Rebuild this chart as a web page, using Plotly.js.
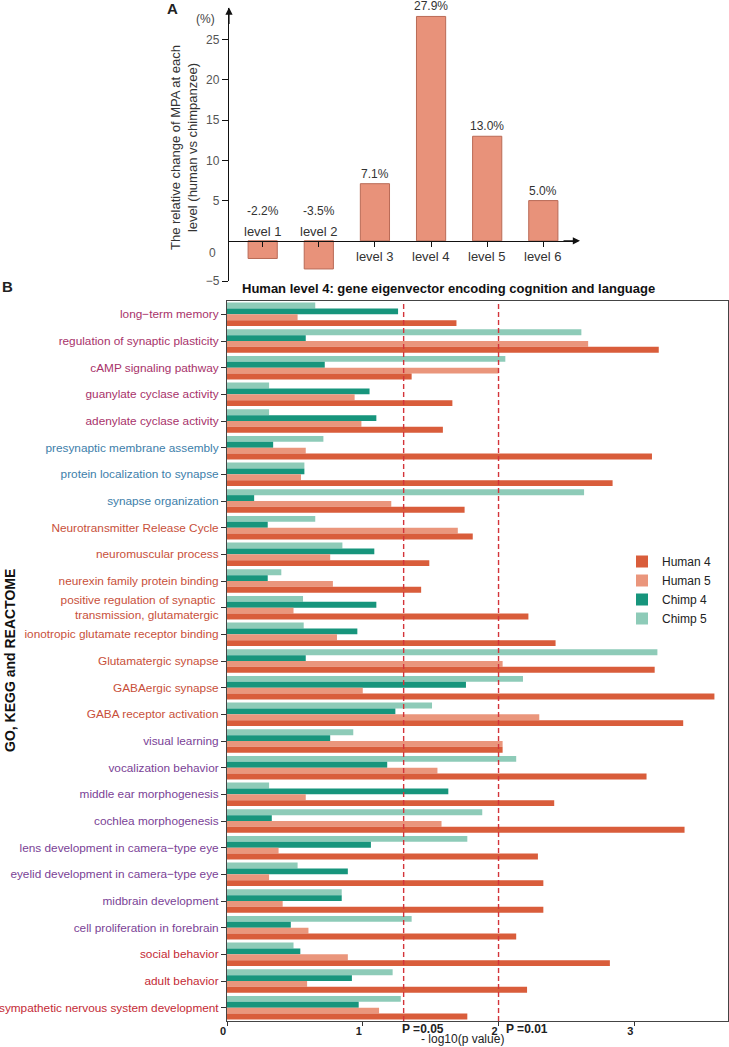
<!DOCTYPE html>
<html>
<head>
<meta charset="utf-8">
<script src="https://cdn.plot.ly/plotly-3.0.1.min.js"></script>
<style>html,body{margin:0;padding:0;background:#fff;}#chart{width:729px;height:1047px;}</style>
</head>
<body>
<div id="chart"></div>
<script>
// ---------- Panel A data ----------
const levels = ['level 1','level 2','level 3','level 4','level 5','level 6'];
const mpaChange = [-2.2, -3.5, 7.1, 27.9, 13.0, 5.0];
const yTicksA = [-5, 5, 10, 15, 20, 25];

// ---------- Panel B data ----------
const categories = [
  'long\u2212term memory',
  'regulation of synaptic plasticity',
  'cAMP signaling pathway',
  'guanylate cyclase activity',
  'adenylate cyclase activity',
  'presynaptic membrane assembly',
  'protein localization to synapse',
  'synapse organization',
  'Neurotransmitter Release Cycle',
  'neuromuscular process',
  'neurexin family protein binding',
  'positive regulation of synaptic <br>transmission, glutamatergic',
  'ionotropic glutamate receptor binding',
  'Glutamatergic synapse',
  'GABAergic synapse',
  'GABA receptor activation',
  'visual learning',
  'vocalization behavior',
  'middle ear morphogenesis',
  'cochlea morphogenesis',
  'lens development in camera\u2212type eye',
  'eyelid development in camera\u2212type eye',
  'midbrain development',
  'cell proliferation in forebrain',
  'social behavior',
  'adult behavior',
  'sympathetic nervous system development'
];
const human4 = [1.69, 3.18, 1.36, 1.66, 1.59, 3.13, 2.84, 1.75, 1.81, 1.49, 1.43, 2.22, 2.42, 3.15, 3.59, 3.36, 2.03, 3.09, 2.41, 3.37, 2.29, 2.33, 2.33, 2.13, 2.82, 2.21, 1.77];
const human5 = [0.52, 2.66, 2.00, 0.94, 0.99, 0.58, 0.545, 1.21, 1.70, 0.76, 0.78, 0.49, 0.81, 2.03, 1.00, 2.30, 2.03, 1.55, 0.58, 1.58, 0.38, 0.31, 0.41, 0.60, 0.89, 0.59, 1.12];
const chimp4 = [1.26, 0.58, 0.72, 1.05, 1.10, 0.34, 0.57, 0.20, 0.30, 1.085, 0.30, 1.10, 0.96, 0.58, 1.76, 1.24, 0.76, 1.18, 1.63, 0.33, 1.06, 0.89, 0.845, 0.47, 0.54, 0.92, 0.97];
const chimp5 = [0.65, 2.61, 2.05, 0.31, 0.31, 0.71, 0.57, 2.63, 0.65, 0.85, 0.40, 0.56, 0.565, 3.17, 2.18, 1.51, 0.93, 2.13, 0.31, 1.88, 1.77, 0.52, 0.845, 1.36, 0.49, 1.22, 1.28];
const xTicksB = [0, 1, 2, 3];
const pThresholds = [1.301, 2];
const pLabels = ['P =0.05', 'P =0.01'];

// ---------- styles ----------
const C_MAG = '#a8326a', C_BLU = '#3d7eaa', C_ORG = '#c8503a', C_PUR = '#7a3f96', C_RED = '#c42a35';
const labelColors = [C_MAG,C_MAG,C_MAG,C_MAG,C_MAG, C_BLU,C_BLU,C_BLU,
  C_ORG,C_ORG,C_ORG,C_ORG,C_ORG,C_ORG,C_ORG,C_ORG,
  C_PUR,C_PUR,C_PUR,C_PUR,C_PUR,C_PUR,C_PUR,C_PUR, C_RED,C_RED,C_RED];

const W = 729, H = 1047;
const px = x => x / W;
const py = y => 1 - y / H;
const FONT = 'Liberation Sans, Arial, sans-serif';

const ticktextB = categories.map((c, i) =>
  c.split('<br>').map(s => `<span style="color:${labelColors[i]}">${s}</span>`).join('<br>'));

const traces = [
  {type:'bar', orientation:'h', name:'Chimp 5', y:categories, x:chimp5, marker:{color:'#8ecbb8'}, xaxis:'x', yaxis:'y'},
  {type:'bar', orientation:'h', name:'Chimp 4', y:categories, x:chimp4, marker:{color:'#17957c'}, xaxis:'x', yaxis:'y'},
  {type:'bar', orientation:'h', name:'Human 5', y:categories, x:human5, marker:{color:'#ea967c'}, xaxis:'x', yaxis:'y'},
  {type:'bar', orientation:'h', name:'Human 4', y:categories, x:human4, marker:{color:'#d95d3b'}, xaxis:'x', yaxis:'y'},
  {type:'bar', x:levels, y:mpaChange, width:0.52, xaxis:'x2', yaxis:'y2', showlegend:false,
   marker:{color:'#e8927a', line:{color:'#b96a56', width:1}}}
];

const annotations = [];
// Panel A labels
levels.forEach((lv, i) => {
  const v = mpaChange[i];
  const txt = v.toFixed(1) + '%';
  if (v < 0) {
    annotations.push({xref:'x2', yref:'y2', x:lv, y:3.73, text:txt, font:{size:12, color:'#333', family:FONT}});
    annotations.push({xref:'x2', yref:'y2', x:lv, y:1.12, text:lv, font:{size:13, color:'#333', family:FONT}});
  } else {
    annotations.push({xref:'x2', yref:'y2', x:lv, y:v, yanchor:'bottom', yshift:1, text:txt, font:{size:12, color:'#333', family:FONT}});
    annotations.push({xref:'x2', yref:'y2', x:lv, y:-1.99, text:lv, font:{size:13, color:'#333', family:FONT}});
  }
});
annotations.push({xref:'paper', yref:'paper', x:px(212), y:py(253), text:'0', font:{size:12, color:'#555', family:FONT}});
annotations.push({xref:'paper', yref:'paper', x:px(205), y:py(19), text:'(%)', font:{size:12, color:'#444', family:FONT}});
annotations.push({xref:'paper', yref:'paper', x:px(184), y:py(147), textangle:-90,
  text:'The relative change of MPA at each<br>level (human vs chimpanzee)', font:{size:13, color:'#333', family:FONT}});
// Panel letters
annotations.push({xref:'paper', yref:'paper', x:px(172), y:py(9), text:'<b>A</b>', font:{size:15, color:'#222', family:FONT}});
annotations.push({xref:'paper', yref:'paper', x:px(8), y:py(287), text:'<b>B</b>', font:{size:15, color:'#222', family:FONT}});
// Panel B title and axis titles
annotations.push({xref:'paper', yref:'paper', x:px(448), y:py(288), text:'<b>Human level 4: gene eigenvector encoding cognition and language</b>', font:{size:13, color:'#111', family:FONT}});
annotations.push({xref:'paper', yref:'paper', x:px(10), y:py(661), textangle:-90, text:'<b>GO, KEGG and REACTOME</b>', font:{size:14, color:'#111', family:FONT}});
annotations.push({xref:'paper', yref:'paper', x:px(462), y:py(1039), text:'- log10(p value)', font:{size:12, color:'#222', family:FONT}});
pThresholds.forEach((t, i) => {
  annotations.push({xref:'x', yref:'paper', x:t, y:py(1029), xanchor:'left', xshift:(i===0?-4:5), text:'<b>'+pLabels[i]+'</b>', font:{size:12, color:'#222', family:FONT}});
});
// defaults: explicit anchors, no arrows
annotations.forEach(a => {
  if (a.xanchor === undefined) a.xanchor = 'center';
  if (a.yanchor === undefined) a.yanchor = 'middle';
  a.showarrow = false;
});
// axis arrows
annotations.push({xref:'paper', yref:'y2', x:px(229), y:29, ax:0, ay:18, text:'', showarrow:true, arrowhead:2, arrowsize:1.2, arrowwidth:1.2, arrowcolor:'#111'});
annotations.push({xref:'paper', yref:'y2', x:px(580), y:0, ax:-18, ay:0, text:'', showarrow:true, arrowhead:2, arrowsize:1.2, arrowwidth:1.2, arrowcolor:'#111'});

const shapes = pThresholds.map(t => ({type:'line', xref:'x', yref:'paper', x0:t, x1:t, y0:py(1021), y1:py(301),
  line:{color:'#d3343a', width:1.4, dash:'5px,3px'}, layer:'above'}));

const layout = {
  width: W, height: H,
  margin: {l:0, r:0, t:0, b:0},
  paper_bgcolor:'#fff', plot_bgcolor:'rgba(0,0,0,0)',
  font:{family:FONT, color:'#222'},
  barmode:'group', bargap:0.12, bargroupgap:0,
  showlegend:true,
  legend:{x:px(622), y:py(547), xanchor:'left', yanchor:'top', traceorder:'reversed', bgcolor:'rgba(0,0,0,0)',
    font:{size:12, color:'#222', family:FONT}, itemclick:false},
  xaxis:{domain:[px(227), px(728)], range:[0, 3.69], anchor:'y', showgrid:false, zeroline:false,
    showline:true, mirror:true, linecolor:'#444', linewidth:1,
    tickvals:xTicksB, ticktext:xTicksB.map(v => '<b>'+v+'</b>'), ticks:'outside', ticklen:4, tickcolor:'#333',
    tickfont:{size:11, color:'#222', family:FONT}, ticklabelshift:-4, ticklabelstandoff:-4},
  yaxis:{domain:[py(1021), py(301)], anchor:'x', type:'category', categoryarray:categories, autorange:'reversed',
    showgrid:false, zeroline:false, showline:true, mirror:true, linecolor:'#444', linewidth:1,
    tickvals:categories, ticktext:ticktextB, ticks:'outside', ticklen:5, tickcolor:'#333',
    tickfont:{size:11.8, family:FONT}},
  xaxis2:{domain:[px(229), px(577)], type:'category', range:[-0.6, 5.6], anchor:'free', position:py(240.7),
    showgrid:false, zeroline:false, showline:true, linecolor:'#111', linewidth:1.2,
    ticks:'outside', ticklen:5, tickcolor:'#111', showticklabels:false},
  yaxis2:{domain:[py(281), py(7.6)], range:[-5, 29], anchor:'x2', showgrid:false, zeroline:false,
    showline:true, linecolor:'#111', linewidth:1.2, tickvals:yTicksA, ticktext:yTicksA.map(v => v < 0 ? '\u22125' : String(v)),
    ticks:'outside', ticklen:6, tickcolor:'#111', tickfont:{size:12, color:'#555', family:FONT}},
  annotations: annotations,
  shapes: shapes
};

Plotly.newPlot('chart', traces, layout, {staticPlot:true, displayModeBar:false});
</script>
</body>
</html>
